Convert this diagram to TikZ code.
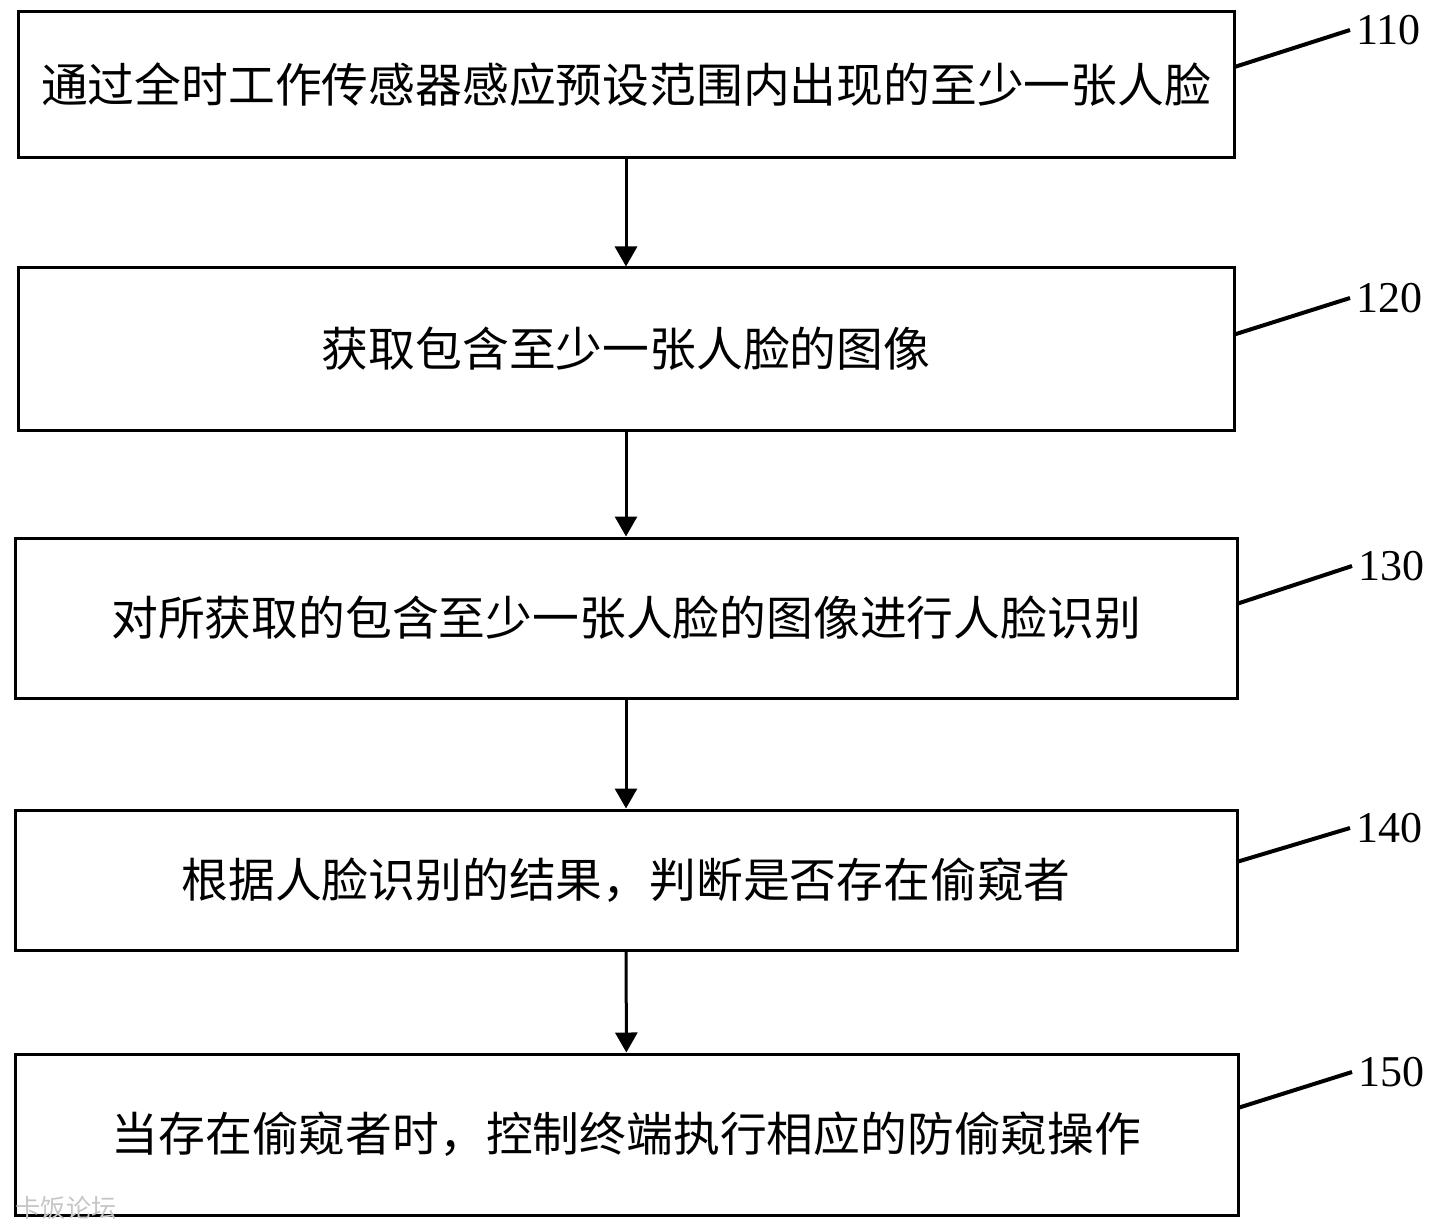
\documentclass[tikz,border=0pt]{standalone}
\usepackage{fontspec}
\setmainfont{Liberation Serif}
\newfontfamily\cjk{Noto Sans CJK SC}
\usetikzlibrary{arrows.meta,calc}
\begin{document}
\begin{tikzpicture}[x=0.5pt,y=-0.5pt,
  box/.style={draw,line width=1.5pt,rectangle,inner sep=0pt,minimum width=#1,font=\cjk\fontsize{23.4pt}{28pt}\selectfont},
  flow/.style={line width=1.5pt,-{Triangle[length=10pt,width=11pt]}},
  leader/.style={line width=2pt},
  num/.style={anchor=west,inner sep=3pt,font=\fontsize{22pt}{25pt}\selectfont},
  wm/.style={text=gray!45,inner sep=0pt,font=\cjk\fontsize{12.6pt}{14pt}\selectfont}]
\useasboundingbox (0,0) rectangle (1440,1230);

\node[box=608pt,minimum height=73pt] (b1) at (626,85) {通过全时工作传感器感应预设范围内出现的至少一张人脸};
\node[box=608pt,minimum height=81pt] (b2) at (626,349) {获取包含至少一张人脸的图像};
\node[box=611pt,minimum height=80pt] (b3) at (626,618) {对所获取的包含至少一张人脸的图像进行人脸识别};
\node[box=611pt,minimum height=70pt] (b4) at (626,880) {根据人脸识别的结果，判断是否存在偷窥者};
\node[box=611.5pt,minimum height=80.5pt] (b5) at (626.5,1134.5) {当存在偷窥者时，控制终端执行相应的防偷窥操作};

\draw[flow] (b1) -- (b2);
\draw[flow] (b2) -- (b3);
\draw[flow] (b3) -- (b4);
\draw[flow] (b4) -- (b5);

\node[num] (l1) at (1350,30) {110};
\node[num] (l2) at (1350,298) {120};
\node[num] (l3) at (1352,566) {130};
\node[num] (l4) at (1350,828) {140};
\node[num] (l5) at (1352,1072) {150};

\draw[leader] ($(b1.north east)!0.377!(b1.south east)$) -- (l1.west);
\draw[leader] ($(b2.north east)!0.41!(b2.south east)$) -- (l2.west);
\draw[leader] ($(b3.north east)!0.41!(b3.south east)$) -- (l3.west);
\draw[leader] ($(b4.north east)!0.37!(b4.south east)$) -- (l4.west);
\draw[leader] ($(b5.north east)!0.335!(b5.south east)$) -- (l5.west);

\node[wm] (wm) at (66,1208) {卡饭论坛};
\end{tikzpicture}
\end{document}
